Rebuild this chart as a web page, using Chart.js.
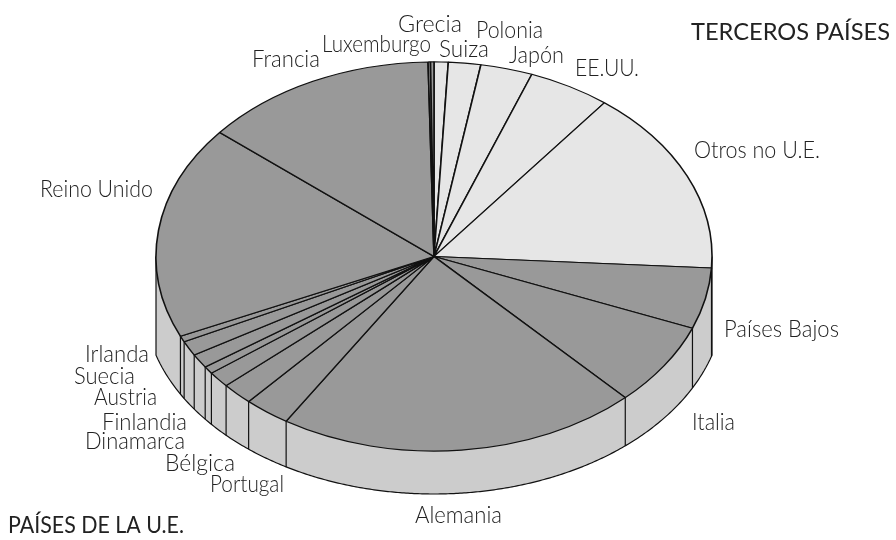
<!DOCTYPE html>
<html>
<head>
<meta charset="utf-8">
<title>Terceros países / Países de la U.E.</title>
<script src="https://cdn.jsdelivr.net/npm/chart.js@4"></script>
<style>
  html, body { margin: 0; padding: 0; background: #fff; }
  canvas { display: block; }
</style>
</head>
<body>
<canvas id="pie3d" width="896" height="540"></canvas>
<script>
// clockwise from the top of the pie
const categories = ['Suiza', 'Polonia', 'Japón', 'EE.UU.', 'Otros no U.E.', 'Países Bajos', 'Italia', 'Alemania',
  'Portugal', 'Bélgica', 'Dinamarca', 'Finlandia', 'Austria', 'Suecia', 'Irlanda', 'Reino Unido', 'Francia',
  'Luxemburgo', 'Grecia'];
// share of the total, %
const shares = [0.82, 1.88, 3.02, 4.78, 15.44, 5.06, 6.92, 21.0, 2.69, 1.83, 1.33, 0.61, 1.17, 1.22, 0.5, 17.72,
  13.66, 0.14, 0.2];
const groups = ['terceros', 'terceros', 'terceros', 'terceros', 'terceros', 'ue', 'ue', 'ue', 'ue', 'ue', 'ue', 'ue',
  'ue', 'ue', 'ue', 'ue', 'ue', 'ue', 'ue'];
const groupTitles = ['TERCEROS PAÍSES', 'PAÍSES DE LA U.E.'];

// label placement, same order as categories: left x, baseline y, width
const labelSpots = [[439, 57, 50], [476, 38, 67], [509, 63, 55], [575, 76, 64], [694, 158, 126], [724, 337, 115],
  [692, 430, 43], [415, 523, 87], [210, 492, 74], [165, 471, 70], [85, 449, 100], [102, 430, 85], [94, 405, 63],
  [74, 384, 61], [85, 362, 64], [40, 197, 113], [252, 67, 68], [322, 52, 109], [398, 32, 64]];
const titleSpots = [[691, 40, 199], [8, 533, 176]];

const groupColors = { terceros: '#e6e6e6', ue: '#999999' };
const wallColor = '#cccccc';
const lineColor = '#111111';
const squash = 0.7;
const wallCenterY = 300, wallRx = 290, wallRy = 194;

const wallBottomAt = (x, cx) => wallCenterY + wallRy * Math.sqrt(Math.max(0, 1 - ((x - cx) / wallRx) ** 2));

const pie3dPlugin = {
  id: 'pie3d',
  beforeDatasetsDraw(chart) {
    const ctx = chart.ctx;
    const arcs = chart.getDatasetMeta(0).data;
    const cx = arcs[0].x, cy = arcs[0].y, r = arcs[0].outerRadius;

    // Side wall under the front half of the rim
    ctx.save();
    ctx.beginPath();
    ctx.moveTo(cx - r, cy);
    for (let x = cx - r; x <= cx + r; x += 2) ctx.lineTo(x, wallBottomAt(x, cx));
    ctx.lineTo(cx + r, wallBottomAt(cx + r, cx));
    ctx.lineTo(cx + r, cy);
    ctx.fillStyle = wallColor;
    ctx.fill();
    ctx.strokeStyle = lineColor;
    ctx.lineWidth = 1.2;
    ctx.stroke();

    arcs.forEach((arc) => {
      const sin = Math.sin(arc.endAngle);
      if (sin <= 0) return;
      const x = cx + r * Math.cos(arc.endAngle);
      ctx.beginPath();
      ctx.moveTo(x, cy + r * squash * sin);
      ctx.lineTo(x, wallBottomAt(x, cx));
      ctx.stroke();
    });
    ctx.restore();

    // Flatten the pie itself
    ctx.save();
    ctx.translate(cx, cy);
    ctx.scale(1, squash);
    ctx.translate(-cx, -cy);
  },
  afterDatasetsDraw(chart) {
    chart.ctx.restore();
  },
  afterDraw(chart) {
    const ctx = chart.ctx;
    ctx.save();
    ctx.fillStyle = '#222222';
    ctx.textAlign = 'left';
    ctx.textBaseline = 'alphabetic';
    ctx.font = '300 24px Lato';
    categories.forEach((name, i) => {
      const [x, y, w] = labelSpots[i];
      ctx.fillText(name, x, y, w);
    });
    ctx.font = '400 24px Lato';
    groupTitles.forEach((name, i) => {
      const [x, y, w] = titleSpots[i];
      ctx.fillText(name, x, y, w);
    });
    ctx.restore();
  }
};

new Chart(document.getElementById('pie3d'), {
  type: 'pie',
  data: {
    labels: categories,
    datasets: [{
      data: shares,
      backgroundColor: groups.map(g => groupColors[g]),
      borderColor: lineColor,
      borderWidth: 1.6,
      borderAlign: 'center',
      clip: false
    }]
  },
  options: {
    responsive: false,
    animation: false,
    radius: 278,
    layout: { padding: { left: 0, top: 0, right: 28, bottom: 27 } },
    plugins: { legend: { display: false }, tooltip: { enabled: false } }
  },
  plugins: [pie3dPlugin]
});
</script>
</body>
</html>
